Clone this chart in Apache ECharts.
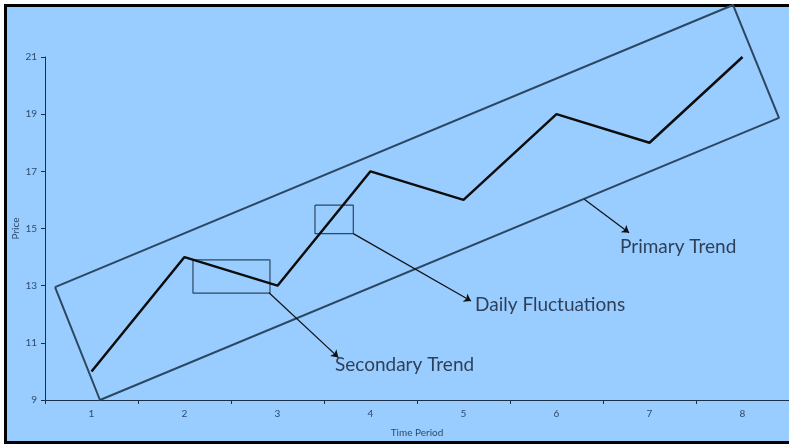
<!DOCTYPE html>
<html>
<head>
<meta charset="utf-8">
<title>Price Trends</title>
<script src="https://cdn.jsdelivr.net/npm/echarts@6/dist/echarts.min.js"></script>
<style>
  html, body { margin: 0; padding: 0; background: #ffffff; }
  #chart { width: 789px; height: 445px; }
</style>
</head>
<body>
<div id="chart"></div>
<script>
// Price by time period
const categories = ['1', '2', '3', '4', '5', '6', '7', '8'];
const prices = [10, 14, 13, 17, 16, 19, 18, 21];
const yTicks = { min: 9, max: 21, step: 2 };

// Annotation shapes, in data units (x: period position, y: price)
const primaryChannel = [
  [0.608, 12.95], [1.091, 9.0], [8.392, 18.87], [7.898, 22.82], [0.608, 12.95]
];
const secondaryBox = [
  [2.091, 13.90], [2.919, 13.90], [2.919, 12.74], [2.091, 12.74], [2.091, 13.90]
];
const dailyBox = [
  [3.403, 15.82], [3.815, 15.82], [3.815, 14.82], [3.403, 14.82], [3.403, 15.82]
];
const arrows = [
  [[2.909, 12.75], [3.654, 10.49]],
  [[3.815, 14.82], [5.081, 12.46]],
  [[6.299, 16.02], [6.780, 14.85]]
];
const callouts = [
  { name: 'Secondary Trend', value: [3.618, 10.22] },
  { name: 'Daily Fluctuations', value: [5.124, 12.32] },
  { name: 'Primary Trend', value: [6.683, 14.36] }
];

const axisColor = '#1e3047';
const tickText = '#2f4a6c';
const shapeColor = '#2b4762';
const fontFamily = 'Lato, "Noto Sans", sans-serif';

const chart = echarts.init(document.getElementById('chart'), null, { renderer: 'canvas' });

chart.setOption({
  backgroundColor: '#ffffff',
  animation: false,
  graphic: [{
    type: 'rect',
    z: -10,
    silent: true,
    shape: { x: 5.5, y: 5.5, width: 800, height: 437 },
    style: { fill: '#99ccff', stroke: '#000000', lineWidth: 3 }
  }],
  grid: {
    left: 45, right: 0, top: 57, bottom: 45,
    containLabel: false,
    outerBoundsMode: 'none'
  },
  xAxis: [{
    type: 'category',
    data: categories,
    boundaryGap: true,
    name: 'Time Period',
    nameLocation: 'middle',
    nameGap: 28,
    nameMoveOverlap: false,
    nameTextStyle: { color: tickText, fontSize: 10, fontFamily },
    axisLine: { lineStyle: { color: axisColor, width: 1 } },
    axisTick: { show: true, interval: 0, length: 4, lineStyle: { color: axisColor } },
    axisLabel: { color: tickText, fontSize: 10, fontFamily, margin: 9 },
    splitLine: { show: false }
  }, {
    type: 'value',
    min: 0.5,
    max: 8.5,
    show: false,
    splitLine: { show: false }
  }],
  yAxis: {
    type: 'value',
    min: yTicks.min,
    max: yTicks.max,
    interval: yTicks.step,
    name: 'Price',
    nameLocation: 'middle',
    nameGap: 24,
    nameMoveOverlap: false,
    nameTextStyle: { color: tickText, fontSize: 10, fontFamily },
    axisLine: { show: true, lineStyle: { color: axisColor, width: 1 } },
    axisTick: { show: true, length: 4, lineStyle: { color: axisColor } },
    axisLabel: { color: tickText, fontSize: 10, fontFamily, margin: 8 },
    splitLine: { show: false }
  },
  series: [
    {
      name: 'Primary channel',
      type: 'line',
      xAxisIndex: 1,
      data: primaryChannel,
      symbol: 'none',
      clip: false,
      z: 3,
      lineStyle: { color: shapeColor, width: 2 }
    },
    {
      name: 'Secondary box',
      type: 'line',
      xAxisIndex: 1,
      data: secondaryBox,
      symbol: 'none',
      z: 3,
      lineStyle: { color: shapeColor, width: 1.2 }
    },
    {
      name: 'Daily box',
      type: 'line',
      xAxisIndex: 1,
      data: dailyBox,
      symbol: 'none',
      z: 3,
      lineStyle: { color: shapeColor, width: 1.2 }
    },
    {
      name: 'Price',
      type: 'line',
      xAxisIndex: 0,
      data: prices,
      symbol: 'none',
      z: 4,
      lineStyle: { color: '#0d0d0d', width: 2.5 }
    },
    {
      name: 'Pointers',
      type: 'lines',
      coordinateSystem: 'cartesian2d',
      xAxisIndex: 1,
      z: 5,
      silent: true,
      symbol: ['none', 'arrow'],
      symbolSize: 7,
      lineStyle: { color: '#111111', width: 1.2, opacity: 1 },
      data: arrows.map(coords => ({ coords }))
    },
    {
      name: 'Callouts',
      type: 'scatter',
      xAxisIndex: 1,
      data: callouts,
      symbolSize: 0,
      z: 5,
      label: {
        show: true,
        position: 'right',
        distance: 0,
        formatter: p => p.name,
        color: '#111a2b',
        fontSize: 19,
        fontFamily
      }
    }
  ]
});
</script>
</body>
</html>
